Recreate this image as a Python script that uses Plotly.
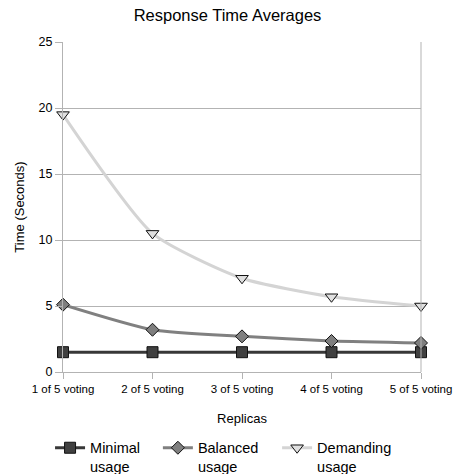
import plotly.graph_objects as go

categories = ["1 of 5 voting", "2 of 5 voting", "3 of 5 voting", "4 of 5 voting", "5 of 5 voting"]
minimal = [1.5, 1.5, 1.5, 1.5, 1.5]
balanced = [5.1, 3.2, 2.7, 2.35, 2.2]
demanding = [19.5, 10.5, 7.1, 5.7, 5.0]
y_ticks = [0, 5, 10, 15, 20, 25]

font = "Liberation Sans, Arial, sans-serif"

fig = go.Figure()
fig.add_trace(go.Scatter(
    x=categories, y=minimal, name="Minimal<br>usage", mode="lines+markers",
    line=dict(color="#383838", width=3),
    marker=dict(symbol="square", size=11, color="#404040", line=dict(color="#111111", width=1)),
    cliponaxis=False, legend="legend",
))
fig.add_trace(go.Scatter(
    x=categories, y=balanced, name="Balanced<br>usage", mode="lines+markers",
    line=dict(color="#808080", width=3, shape="spline", smoothing=0.6),
    marker=dict(symbol="diamond", size=10, color="#7f7f7f", line=dict(color="#111111", width=1)),
    cliponaxis=False, legend="legend2",
))
fig.add_trace(go.Scatter(
    x=categories, y=demanding, name="Demanding<br>usage", mode="lines+markers",
    line=dict(color="#d4d4d4", width=3, shape="spline", smoothing=0.6),
    marker=dict(symbol="triangle-down", size=11, color="#e0e0e0", line=dict(color="#111111", width=1)),
    cliponaxis=False, legend="legend3",
))

# one legend box per series so each entry sits at its own spot under the chart
legend_common = dict(orientation="h", xanchor="left", xref="container", yref="container",
                     y=0.089, yanchor="top", valign="top", itemwidth=30,
                     font=dict(size=14.5, family=font), bgcolor="rgba(0,0,0,0)")

fig.update_layout(
    width=455, height=474,
    margin=dict(l=63, r=34, t=42, b=102, autoexpand=False),
    paper_bgcolor="white", plot_bgcolor="white",
    font=dict(family=font, size=11, color="#000000"),
    title=dict(text="Response Time Averages", x=0.5, xanchor="center", y=0.967, yanchor="middle",
               font=dict(size=16.5, family=font)),
    showlegend=True,
    legend=dict(legend_common, x=0.110),
    legend2=dict(legend_common, x=0.347),
    legend3=dict(legend_common, x=0.609),
)
fig.update_xaxes(
    type="category", range=[0, 4], showgrid=False,
    showline=True, linecolor="#b3b3b3", linewidth=1, mirror=False,
    ticks="outside", ticklen=6, tickcolor="#b3b3b3",
    tickfont=dict(size=11.5), title=dict(text="Replicas", font=dict(size=13), standoff=20),
)
fig.update_yaxes(
    range=[0, 25], tickvals=y_ticks, showgrid=True, gridcolor="#b3b3b3", gridwidth=1,
    showline=True, linecolor="#b3b3b3", linewidth=1, zeroline=False,
    ticks="outside", ticklen=7, tickcolor="#b3b3b3",
    tickfont=dict(size=12.5), title=dict(text="Time (Seconds)", font=dict(size=13), standoff=11),
)
# right border line of the plot area
fig.add_shape(type="line", xref="paper", yref="paper", x0=1, x1=1, y0=0, y1=1,
              line=dict(color="#b3b3b3", width=1))

fig.write_html("out.html")
